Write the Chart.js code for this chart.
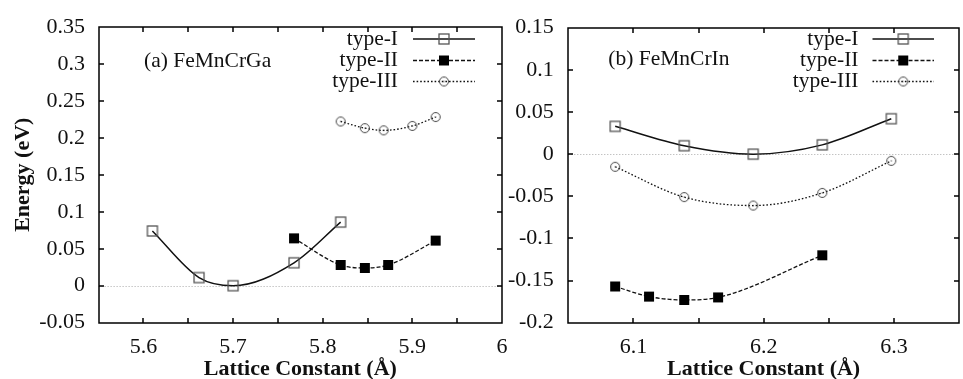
<!DOCTYPE html>
<html>
<head>
<meta charset="utf-8">
<script src="https://cdn.jsdelivr.net/npm/chart.js@4.4.0/dist/chart.umd.min.js"></script>
<style>
  html, body { margin: 0; padding: 0; background: #fff; overflow: hidden; width: 963px; height: 379px; }
  #left { position: absolute; left: 0; top: 0; }
  #right { position: absolute; left: 500px; top: 0; }
</style>
</head>
<body>
<canvas id="left" width="525" height="390"></canvas>
<canvas id="right" width="470" height="390"></canvas>
<script>
// (a) FeMnCrGa
const gaTypeIX = [5.610, 5.662, 5.700, 5.768, 5.820];
const gaTypeIY = [0.074, 0.011, 0.000, 0.031, 0.086];
const gaTypeIIX = [5.768, 5.820, 5.847, 5.873, 5.926];
const gaTypeIIY = [0.064, 0.028, 0.024, 0.028, 0.061];
const gaTypeIIIX = [5.820, 5.847, 5.868, 5.900, 5.926];
const gaTypeIIIY = [0.222, 0.213, 0.210, 0.216, 0.228];

// (b) FeMnCrIn
const inTypeIX = [6.086, 6.139, 6.192, 6.245, 6.298];
const inTypeIY = [0.033, 0.010, 0.000, 0.011, 0.042];
const inTypeIIX = [6.086, 6.112, 6.139, 6.165, 6.245];
const inTypeIIY = [-0.157, -0.169, -0.173, -0.170, -0.120];
const inTypeIIIX = [6.086, 6.139, 6.192, 6.245, 6.298];
const inTypeIIIY = [-0.015, -0.051, -0.061, -0.046, -0.008];

const seriesNames = ["type-I", "type-II", "type-III"];
const xTitle = "Lattice Constant (Å)";
const yTitle = "Energy (eV)";

const SERIF = "'Liberation Serif', 'Times New Roman', serif";

// gnuplot-like point symbols
function makeMarker(kind) {
  const c = document.createElement("canvas");
  c.width = 14; c.height = 14;
  const g = c.getContext("2d");
  if (kind === "open") {
    g.strokeStyle = "#555"; g.lineWidth = 1.3;
    g.strokeRect(2, 2, 10, 10);
  } else if (kind === "filled") {
    g.fillStyle = "#000";
    g.fillRect(2, 2, 10, 10);
  } else {
    g.strokeStyle = "#444"; g.lineWidth = 1;
    g.beginPath(); g.arc(7, 7, 4.5, 0, Math.PI * 2); g.stroke();
    g.fillStyle = "#444";
    g.fillRect(6.5, 6.5, 1, 1);
  }
  return c;
}
const markers = [makeMarker("open"), makeMarker("filled"), makeMarker("circle")];
const dashes = [[], [4, 2], [1.6, 2]];
const widths = [1.5, 1.3, 1.3];

function toPoints(xs, ys) {
  return xs.map((x, i) => ({ x: x, y: ys[i] }));
}

function makeDatasets(pairs) {
  return pairs.map((p, i) => ({
    label: seriesNames[i],
    data: toPoints(p[0], p[1]),
    borderColor: "#111",
    borderWidth: widths[i],
    borderDash: dashes[i],
    pointStyle: markers[i],
    pointRadius: 6,
    cubicInterpolationMode: "monotone",
    fill: false,
  }));
}

// snap to whole pixel so the frame stays crisp
const snap = v => Math.round(v);

const gnuplotFrame = {
  id: "gnuplotFrame",
  beforeDatasetsDraw(chart) {
    const { ctx, chartArea: a, scales } = chart;
    const y0 = snap(scales.y.getPixelForValue(0)) + 0.5;
    ctx.save();
    ctx.strokeStyle = "#aaa";
    ctx.lineWidth = 1;
    ctx.setLineDash([1, 2]);
    ctx.beginPath();
    ctx.moveTo(a.left, y0); ctx.lineTo(a.right, y0);
    ctx.stroke();
    ctx.restore();
  },
  afterDatasetsDraw(chart) {
    const { ctx, chartArea: a, scales } = chart;
    const len = 5;
    const L = snap(a.left), R = snap(a.right), T = snap(a.top), B = snap(a.bottom);
    ctx.save();
    ctx.strokeStyle = "#000";
    ctx.lineWidth = 1.5;
    ctx.setLineDash([]);
    ctx.beginPath();
    ctx.rect(L, T, R - L, B - T);
    scales.x.ticks.forEach(t => {
      const px = snap(scales.x.getPixelForValue(t.value));
      if (px <= L + 1 || px >= R - 1) return;
      ctx.moveTo(px, B); ctx.lineTo(px, B - len);
      ctx.moveTo(px, T); ctx.lineTo(px, T + len);
    });
    scales.y.ticks.forEach(t => {
      const py = snap(scales.y.getPixelForValue(t.value));
      if (py <= T + 1 || py >= B - 1) return;
      ctx.moveTo(L, py); ctx.lineTo(L + len, py);
      ctx.moveTo(R, py); ctx.lineTo(R - len, py);
    });
    ctx.stroke();
    ctx.restore();
  },
  afterDraw(chart) {
    const { ctx, chartArea: a } = chart;
    const o = chart.options.plugins.gnuplotFrame;
    ctx.save();
    ctx.fillStyle = "#111";
    ctx.font = "21.5px " + SERIF;
    ctx.textBaseline = "middle";
    ctx.textAlign = "left";
    ctx.fillText(o.label, a.left + o.labelDx, o.labelY);
    // legend: text right aligned, then line sample with marker
    const rows = [39, 60.5, 81.5];
    chart.data.datasets.forEach((ds, i) => {
      const y = rows[i];
      ctx.textAlign = "right";
      ctx.fillText(ds.label, a.right + o.legText, y);
      ctx.save();
      ctx.strokeStyle = ds.borderColor;
      ctx.lineWidth = ds.borderWidth;
      ctx.setLineDash(ds.borderDash);
      ctx.beginPath();
      ctx.moveTo(a.right + o.legLine0, y); ctx.lineTo(a.right + o.legLine1, y);
      ctx.stroke();
      ctx.restore();
      const m = ds.pointStyle;
      const cx = (a.right + o.legLine0 + a.right + o.legLine1) / 2;
      ctx.drawImage(m, cx - m.width / 2, y - m.height / 2);
    });
    ctx.restore();
  },
};

function makeChart(id, datasets, cfg) {
  return new Chart(document.getElementById(id), {
    type: "line",
    data: { datasets: datasets },
    plugins: [gnuplotFrame],
    options: {
      responsive: false,
      animation: false,
      events: [],
      layout: { padding: { top: 22.7, right: cfg.padRight, left: 0, bottom: 0 } },
      plugins: {
        legend: { display: false },
        tooltip: { enabled: false },
        gnuplotFrame: cfg.frame,
      },
      scales: {
        x: {
          type: "linear",
          min: cfg.xMin, max: cfg.xMax,
          grid: { display: false, drawTicks: false },
          border: { display: false },
          afterFit: s => { s.height = 67.3; },
          ticks: {
            stepSize: 0.05, autoSkip: false, maxRotation: 0, padding: 11,
            color: "#111", font: { family: SERIF, size: 22 },
            callback: v => Math.abs(v * 10 - Math.round(v * 10)) < 1e-6 ? String(+v.toFixed(1)) : "",
          },
          title: {
            display: true, text: xTitle, color: "#111",
            font: { family: SERIF, size: 22, weight: "bold" },
            padding: { top: 0, bottom: 7 },
          },
        },
        y: {
          min: cfg.yMin, max: cfg.yMax,
          grid: { display: false, drawTicks: false },
          border: { display: false },
          afterFit: s => { s.width = cfg.yWidth; },
          ticks: {
            stepSize: 0.05, autoSkip: false, padding: cfg.yPad,
            color: "#111", font: { family: SERIF, size: 22 },
            callback: v => String(+v.toFixed(2)),
          },
          title: {
            display: cfg.showYTitle, text: yTitle, color: "#111",
            font: { family: SERIF, size: 22, weight: "bold" },
            padding: { top: 10, bottom: 0 },
          },
        },
      },
    },
  });
}

makeChart("left", makeDatasets([[gaTypeIX, gaTypeIY], [gaTypeIIX, gaTypeIIY], [gaTypeIIIX, gaTypeIIIY]]), {
  xMin: 5.55, xMax: 6.0, yMin: -0.05, yMax: 0.35,
  yWidth: 98.6, yPad: 13.6, padRight: 23, showYTitle: true,
  frame: { label: "(a) FeMnCrGa", labelDx: 45.4, labelY: 61.5, legText: -104, legLine0: -89, legLine1: -27 },
});

makeChart("right", makeDatasets([[inTypeIX, inTypeIY], [inTypeIIX, inTypeIIY], [inTypeIIIX, inTypeIIIY]]), {
  xMin: 6.05, xMax: 6.35, yMin: -0.2, yMax: 0.15,
  yWidth: 68.3, yPad: 14.5, padRight: 2, showYTitle: false,
  frame: { label: "(b) FeMnCrIn", labelDx: 40, labelY: 59.5, legText: -100.5, legLine0: -86.5, legLine1: -25 },
});
</script>
</body>
</html>
